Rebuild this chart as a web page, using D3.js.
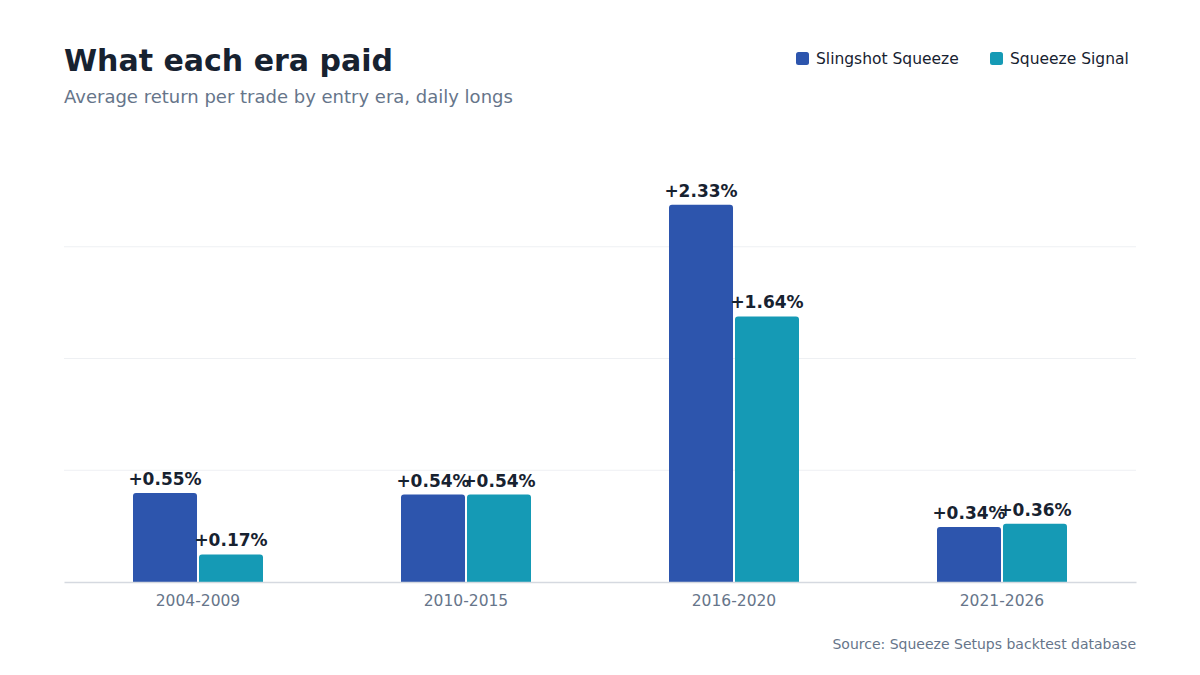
<!DOCTYPE html>
<html>
<head>
<meta charset="utf-8">
<script src="https://cdn.jsdelivr.net/npm/d3@7"></script>
<style>
  body { margin: 0; background: #fff; }
  svg { display: block; font-family: "DejaVu Sans", sans-serif; }
</style>
</head>
<body>
<div id="chart"></div>
<script>
const eras = ["2004-2009", "2010-2015", "2016-2020", "2021-2026"];
const seriesNames = ["Slingshot Squeeze", "Squeeze Signal"];
const slingshot = [0.55, 0.54, 2.33, 0.34];
const signal = [0.17, 0.54, 1.64, 0.36];
const colors = ["#2d55ad", "#159ab5"];

const W = 1200, H = 675;
const margin = {top: 135, right: 64, bottom: 93, left: 64};
const iw = W - margin.left - margin.right,
      ih = H - margin.top - margin.bottom;

const svg = d3.select("#chart").append("svg")
  .attr("width", W).attr("height", H);

// title + subtitle
svg.append("text").attr("x", 64).attr("y", 71)
  .attr("font-size", 30).attr("font-weight", "bold").attr("fill", "#172230")
  .text("What each era paid");
svg.append("text").attr("x", 64).attr("y", 103)
  .attr("font-size", 18).attr("fill", "#66758a")
  .text("Average return per trade by entry era, daily longs");

// legend
const legend = svg.append("g");
const legX = [796, 990];
seriesNames.forEach((name, i) => {
  legend.append("rect").attr("x", legX[i]).attr("y", 52)
    .attr("width", 13).attr("height", 13).attr("rx", 2.5)
    .attr("fill", colors[i]);
  legend.append("text").attr("x", legX[i] + 20).attr("y", 64)
    .attr("font-size", 15.5).attr("fill", "#172230").text(name);
});

const data = eras.map((e, i) => ({era: e, values: [slingshot[i], signal[i]]}));

const chart = svg.append("g")
  .attr("transform", `translate(${margin.left},${margin.top})`);

const x0 = d3.scaleBand().domain(eras).range([0, iw]).padding(0);
const groupW = 130;
const x1 = d3.scaleBand().domain([0, 1])
  .range([x0.bandwidth() / 2 - groupW / 2, x0.bandwidth() / 2 + groupW / 2])
  .paddingInner(0.03);

const yMax = d3.max(slingshot.concat(signal)) * 1.185;
const y = d3.scaleLinear().domain([0, yMax]).range([ih, 0]);

// gridlines
const grid = [1, 2, 3].map(k => yMax * k / 4);
chart.selectAll(".grid").data(grid).enter().append("line")
  .attr("x1", 0).attr("x2", iw)
  .attr("y1", d => y(d)).attr("y2", d => y(d))
  .attr("stroke", "#eef0f3").attr("stroke-width", 1);

// bars
const groups = chart.selectAll(".grp").data(data).enter().append("g")
  .attr("transform", d => `translate(${x0(d.era)},0)`);

const r = 3;
function topRounded(x, yt, w, h) {
  const rr = Math.min(r, h / 2);
  return `M${x},${yt + h}V${yt + rr}Q${x},${yt} ${x + rr},${yt}H${x + w - rr}Q${x + w},${yt} ${x + w},${yt + rr}V${yt + h}Z`;
}

groups.selectAll("path").data(d => d.values.map((v, i) => ({v, i}))).enter()
  .append("path")
  .attr("d", d => topRounded(x1(d.i), y(d.v), x1.bandwidth(), ih - y(d.v)))
  .attr("fill", d => colors[d.i]);

groups.selectAll(".lbl").data(d => d.values.map((v, i) => ({v, i}))).enter()
  .append("text")
  .attr("x", d => x1(d.i) + x1.bandwidth() / 2)
  .attr("y", d => y(d.v) - 8)
  .attr("text-anchor", "middle")
  .attr("font-size", 17).attr("font-weight", "bold").attr("fill", "#172230")
  .text(d => "+" + d.v.toFixed(2) + "%");

// x axis
const xAxis = chart.append("g").attr("transform", `translate(0,${ih})`)
  .call(d3.axisBottom(x0).tickSize(0).tickPadding(13));
xAxis.select(".domain").attr("stroke", "#d5d9e0").attr("stroke-width", 1.5);
xAxis.selectAll("text").attr("font-size", 15.5).attr("fill", "#66758a")
  .attr("font-family", "DejaVu Sans, sans-serif");

// source
svg.append("text").attr("x", 1136).attr("y", 649).attr("text-anchor", "end")
  .attr("font-size", 14).attr("fill", "#66758a")
  .text("Source: Squeeze Setups backtest database");
</script>
</body>
</html>
